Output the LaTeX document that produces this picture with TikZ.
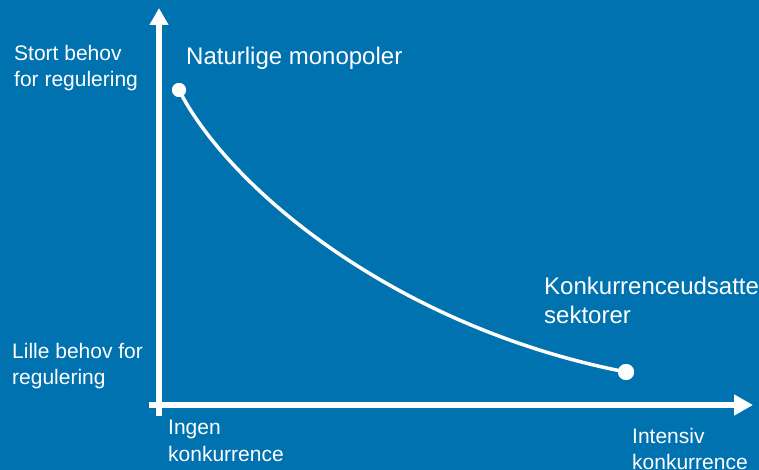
\documentclass[tikz,border=0pt]{standalone}
\usepackage{fontspec}
\setmainfont{Liberation Sans}
\usetikzlibrary{arrows.meta}
\definecolor{bgblue}{RGB}{0,114,176}
\tikzset{
  axisline/.style={draw=white,line width=6pt},
  curveline/.style={draw=white,line width=3.5pt},
  dotnode/.style={circle,fill=white,inner sep=0pt,minimum size=#1},
  smalllabel/.style={text=white,inner sep=0pt,anchor=north west,align=left,font=\fontsize{21}{26.5}\selectfont},
  biglabel/.style={text=white,inner sep=0pt,anchor=north west,align=left,font=\fontsize{24}{29}\selectfont},
}
\begin{document}
\begin{tikzpicture}[x=1pt,y=-1pt]
\useasboundingbox (0,0) rectangle (759,470);
\fill[bgblue] (0,0) rectangle (759,470);
% axes
\coordinate (yb) at (159,416);
\coordinate (yt) at (159,8);
\coordinate (xl) at (149,405);
\coordinate (xr) at (753,405);
\draw[axisline,-{Triangle[length=17pt,width=18pt]}] (yb) -- (yt);
\draw[axisline,-{Triangle[length=19pt,width=20pt]}] (xl) -- (xr);
% curve
\node[dotnode=14pt] (p1) at (179,90) {};
\node[dotnode=16pt] (p2) at (626,372) {};
\coordinate (c1) at (229,188);
\coordinate (c2) at (395,327);
\draw[curveline] (p1.center) .. controls (c1) and (c2) .. (p2.center);
\node[dotnode=14pt] at (p1) {};
\node[dotnode=16pt] at (p2) {};
% labels
\node[smalllabel] (stort) at (14,45) {Stort behov\\for regulering};
\node[smalllabel] (lille) at (12,343) {Lille behov for\\regulering};
\node[biglabel] (nat) at (186,46.5) {Naturlige monopoler};
\node[biglabel] (konk) at (544,276.5) {Konkurrenceudsatte\\sektorer};
\node[smalllabel] (ingen) at (168,420) {Ingen\\konkurrence};
\node[smalllabel] (intens) at (632,428) {Intensiv\\konkurrence};
\end{tikzpicture}
\end{document}
